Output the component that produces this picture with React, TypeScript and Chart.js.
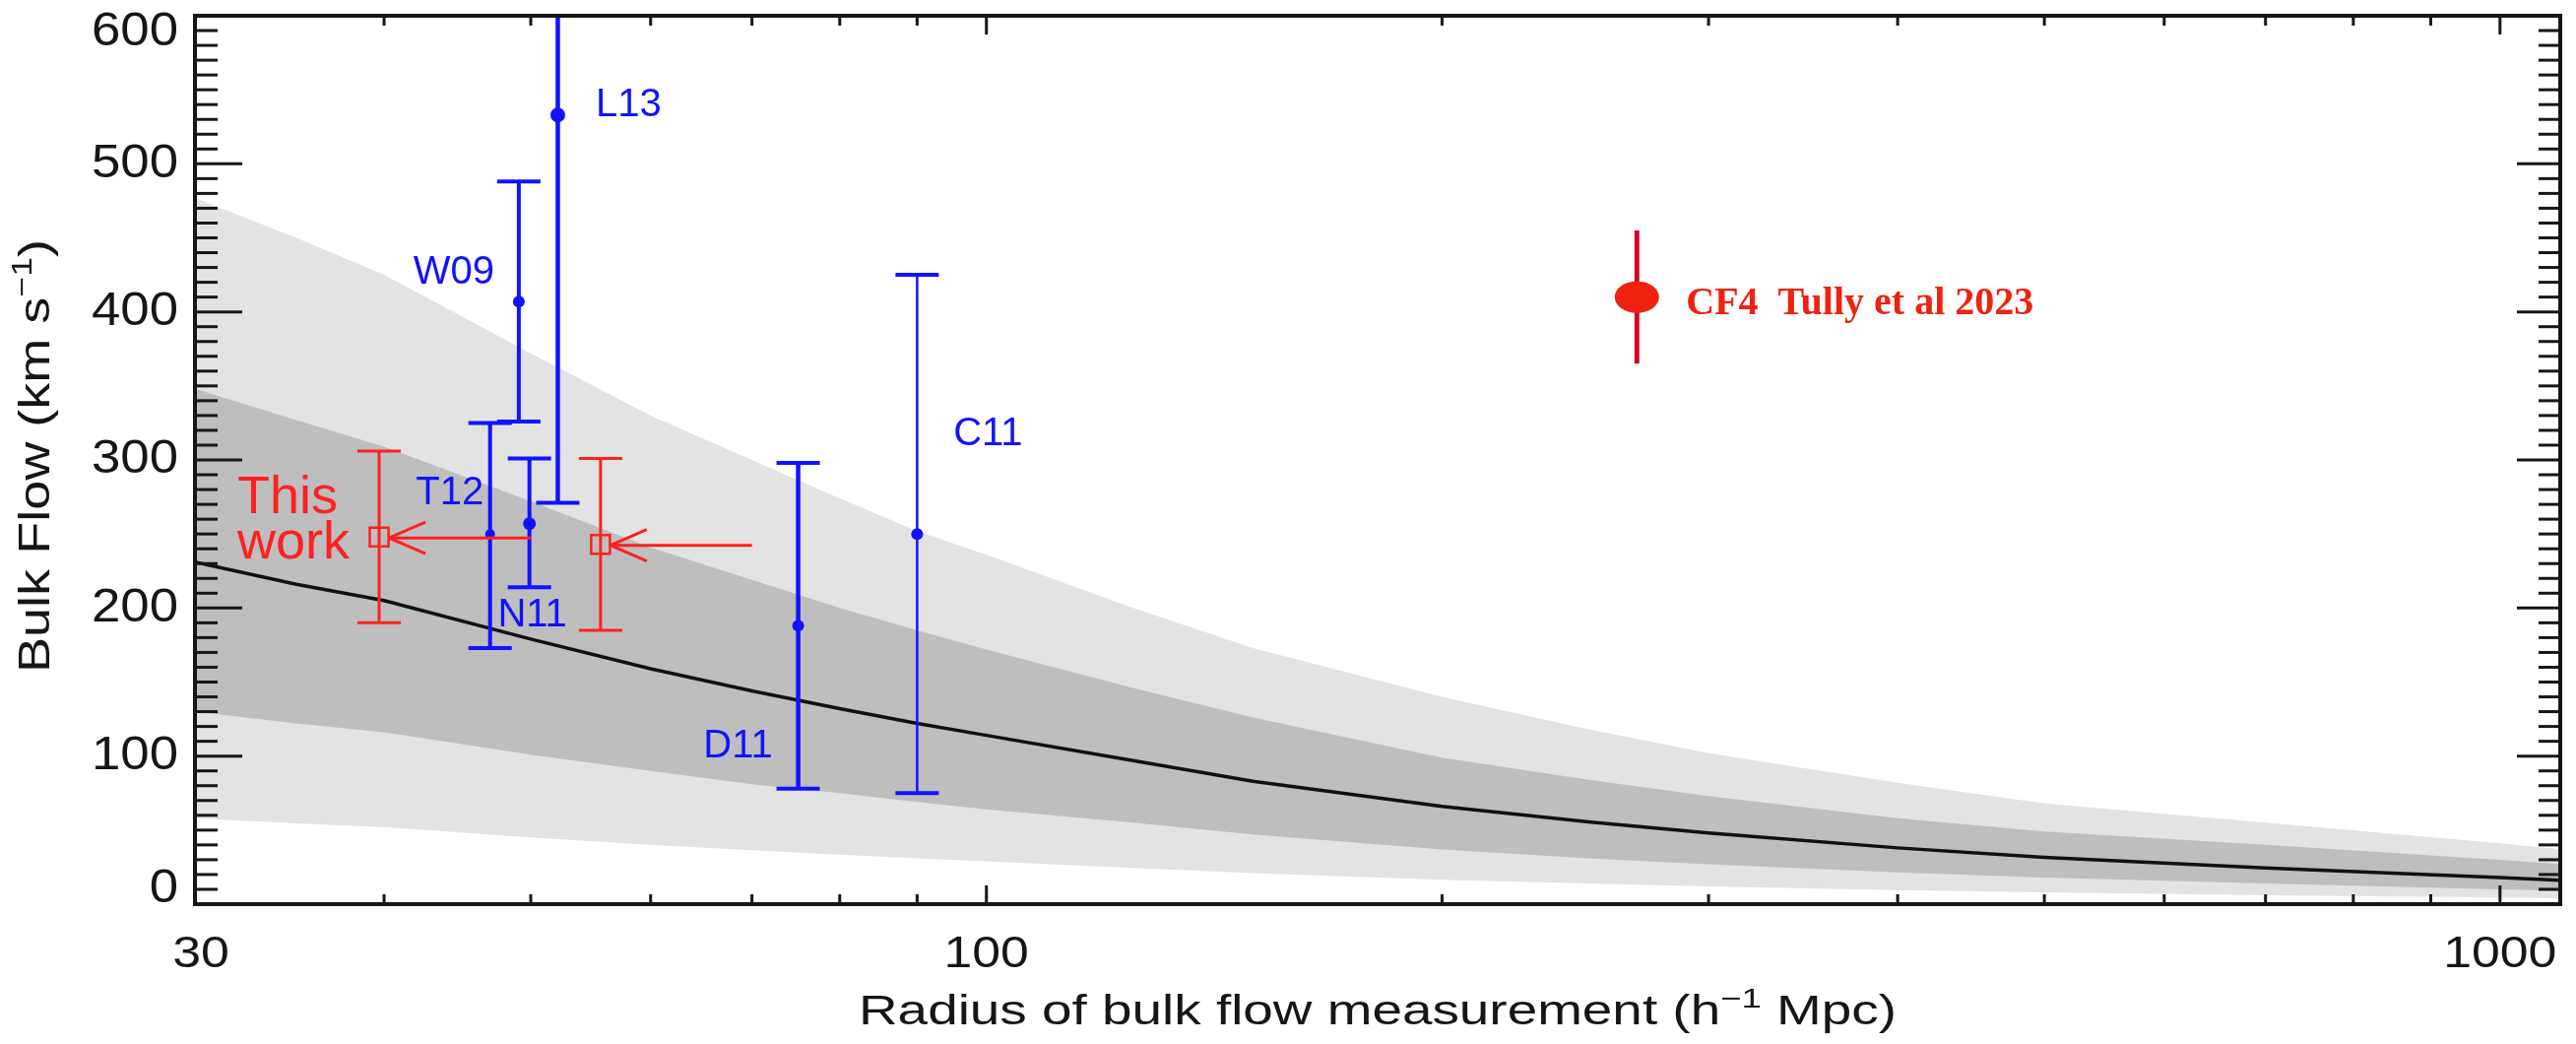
import { useEffect, useRef } from "react";
import { Chart, registerables } from "chart.js";

Chart.register(...registerables);

const W = 2616;
const H = 1060;

// Predicted bulk flow versus radius: median and the two confidence bands
const radius = [30, 35, 40, 50, 60, 70, 80, 90, 100, 125, 150, 200, 250, 300, 400, 500, 700, 1000, 1100];
const median = [231, 216, 205, 179, 159, 144, 132, 122, 114, 97, 83, 66, 55.5, 48, 38, 31.6, 24.5, 18, 16];
const innerHigh = [348, 327, 309, 272, 241, 219, 200, 185, 172, 146, 126, 99, 84, 73, 58, 49, 40, 30, 27];
const innerLow = [130, 122, 116, 101, 90, 81, 75, 69, 64, 55, 47, 37, 31, 27, 21.5, 18, 14, 10, 9];
const outerHigh = [477, 450, 425, 372, 330, 300, 274, 252, 236, 200, 173, 140, 118, 102, 82, 68, 55, 41, 37];
const outerLow = [58, 54.5, 52, 45, 40, 36.5, 33.5, 31, 29, 24.5, 21, 16.5, 14, 12, 9.5, 8, 6, 4.5, 4];

// Earlier bulk flow measurements
const surveyNames = ["W09", "L13", "T12", "N11", "D11", "C11"];
const surveyRadius = [49.1, 52.1, 47.0, 49.9, 75.1, 90.0];
const surveyFlow = [407, 533, 250, 257, 188, 250];
const surveyLow = [326, 271, 173, 214, 78, 75];
const surveyHigh = [488, 796, 325, 301, 298, 425];

// This work: two estimates, each with the radius it is shifted from
const thisWorkRadius = [39.7, 55.6];
const thisWorkFlow = [248, 243];
const thisWorkLow = [190, 185];
const thisWorkHigh = [306, 301];
const thisWorkShiftedFrom = [50, 70];

// CF4 (Tully et al 2023)
const cf4Radius = [269];
const cf4Flow = [410];
const cf4Low = [365];
const cf4High = [455];

// Axis ticks
const yTickLabels = [0, 100, 200, 300, 400, 500, 600];
const xTickLabels = [30, 100, 1000];
const xMinorTicks = [40, 50, 60, 70, 80, 90, 200, 300, 400, 500, 600, 700, 800, 900];
const xMajorTicks = [100, 1000];

// Styling
const BLUE = "#1212ff";
const RED = "#ff2020";
const LIGHT = "#e3e3e3";
const DARK = "#bebebe";
const INK = "#161616";
const SANS = '"Liberation Sans", Arial, sans-serif';
const SERIF = '"Liberation Serif", "Times New Roman", serif';
const CAP = 22;
const surveyLineWidth = [4, 4.5, 4, 4, 4.5, 2.5];
const surveyDotRadius = [6, 7.5, 5, 6.5, 6, 6];
// label placement relative to each survey point, in pixels
const surveyLabelShift: [number, number][] = [
  [-66, -32],
  [72, -13],
  [-41, -44],
  [3, 90],
  [-61, 120],
  [72, -104],
];

type Part = { text: string; size: number; rise: number };

function drawRich(
  ctx: CanvasRenderingContext2D,
  parts: Part[],
  family: string,
  cx: number,
  baseline: number,
  width: number,
  angle: number,
  color: string
) {
  ctx.save();
  ctx.translate(cx, baseline);
  ctx.rotate(angle);
  let total = 0;
  const widths = parts.map((p) => {
    ctx.font = `${p.size}px ${family}`;
    const w = ctx.measureText(p.text).width;
    total += w;
    return w;
  });
  ctx.scale(width / total, 1);
  ctx.fillStyle = color;
  ctx.textAlign = "left";
  ctx.textBaseline = "alphabetic";
  let x = -total / 2;
  parts.forEach((p, i) => {
    ctx.font = `${p.size}px ${family}`;
    ctx.fillText(p.text, x, -p.rise);
    x += widths[i];
  });
  ctx.restore();
}

const overlay = {
  id: "overlay",
  afterDatasetsDraw(chart: any) {
    const { ctx, chartArea: a } = chart;
    const X = (v: number) => chart.scales.x.getPixelForValue(v);
    const Y = (v: number) => chart.scales.y.getPixelForValue(v);
    const seg = (x1: number, y1: number, x2: number, y2: number) => {
      ctx.beginPath();
      ctx.moveTo(x1, y1);
      ctx.lineTo(x2, y2);
      ctx.stroke();
    };

    ctx.save();
    ctx.beginPath();
    ctx.rect(a.left, a.top, a.right - a.left, a.bottom - a.top);
    ctx.clip();
    ctx.lineCap = "butt";

    // survey error bars
    ctx.strokeStyle = BLUE;
    surveyRadius.forEach((r, i) => {
      const x = X(r);
      const lo = Y(surveyLow[i]);
      const hi = Y(surveyHigh[i]);
      ctx.lineWidth = surveyLineWidth[i];
      seg(x, lo, x, hi);
      ctx.lineWidth = 4;
      seg(x - CAP, lo, x + CAP, lo);
      seg(x - CAP, hi, x + CAP, hi);
    });

    // this work: error bars and shift arrows
    ctx.strokeStyle = RED;
    ctx.lineWidth = 3;
    thisWorkRadius.forEach((r, i) => {
      const x = X(r);
      const y = Y(thisWorkFlow[i]);
      const lo = Y(thisWorkLow[i]);
      const hi = Y(thisWorkHigh[i]);
      seg(x, lo, x, hi);
      seg(x - CAP, lo, x + CAP, lo);
      seg(x - CAP, hi, x + CAP, hi);
      const tip = x + 10;
      const tail = X(thisWorkShiftedFrom[i]);
      seg(tail, y + 1, tip, y + 1);
      seg(tip, y + 1, tip + 37, y - 15);
      seg(tip, y + 1, tip + 37, y + 17);
    });

    // CF4 point
    cf4Radius.forEach((r, i) => {
      const x = X(r);
      ctx.strokeStyle = "#d2062a";
      ctx.lineWidth = 5;
      seg(x, Y(cf4Low[i]), x, Y(cf4High[i]));
      ctx.fillStyle = "#ee2211";
      ctx.beginPath();
      ctx.ellipse(x, Y(cf4Flow[i]), 22.5, 16, 0, 0, Math.PI * 2);
      ctx.fill();
    });
    ctx.restore();

    // annotations
    ctx.save();
    ctx.textBaseline = "alphabetic";
    ctx.textAlign = "center";
    ctx.fillStyle = BLUE;
    ctx.font = `40px ${SANS}`;
    surveyNames.forEach((name, i) => {
      const [dx, dy] = surveyLabelShift[i];
      ctx.fillText(name, X(surveyRadius[i]) + dx, Y(surveyFlow[i]) + dy + 14);
    });

    ctx.fillStyle = RED;
    ctx.textAlign = "left";
    ctx.font = `54px ${SANS}`;
    const tx = X(thisWorkRadius[0]) - 144;
    const ty = Y(thisWorkFlow[0]);
    ctx.fillText("This", tx, ty - 24);
    ctx.fillText("work", tx, ty + 22);

    ctx.fillStyle = "#ee2211";
    ctx.font = `bold 40px ${SERIF}`;
    ctx.fillText("CF4  Tully et al 2023", X(cf4Radius[0]) + 50, Y(cf4Flow[0]) + 17);
    ctx.restore();
  },
  afterDraw(chart: any) {
    const { ctx, chartArea: a } = chart;
    const X = (v: number) => chart.scales.x.getPixelForValue(v);
    const Y = (v: number) => chart.scales.y.getPixelForValue(v);
    const seg = (x1: number, y1: number, x2: number, y2: number) => {
      ctx.beginPath();
      ctx.moveTo(x1, y1);
      ctx.lineTo(x2, y2);
      ctx.stroke();
    };
    ctx.save();
    ctx.strokeStyle = INK;
    ctx.lineCap = "butt";

    // y ticks on both sides
    ctx.lineWidth = 3;
    for (let v = 0; v <= 600; v += 10) {
      const y = Y(v);
      const major = v % 100 === 0;
      seg(a.left, y, a.left + (major ? 48 : 23), y);
      seg(a.right, y, a.right - (major ? 44 : 22), y);
    }
    // x ticks on bottom and top
    xMinorTicks.forEach((v) => {
      const x = X(v);
      seg(x, a.bottom, x, a.bottom - 10);
      seg(x, a.top, x, a.top + 10);
    });
    xMajorTicks.forEach((v) => {
      const x = X(v);
      seg(x, a.bottom, x, a.bottom - 19);
      seg(x, a.top, x, a.top + 19);
    });

    // frame
    ctx.lineWidth = 4;
    ctx.strokeRect(a.left, a.top, a.right - a.left, a.bottom - a.top);

    // tick labels
    ctx.fillStyle = INK;
    ctx.textBaseline = "middle";
    ctx.font = `48px ${SANS}`;
    yTickLabels.forEach((v) => {
      const y = Math.min(Math.max(Y(v), a.top + 17), a.bottom - 15);
      ctx.save();
      ctx.translate(a.left - 17, y);
      ctx.scale(1.1, 1);
      ctx.textAlign = "right";
      ctx.fillText(String(v), 0, 0);
      ctx.restore();
    });
    ctx.font = `45px ${SANS}`;
    xTickLabels.forEach((v) => {
      const x = Math.max(X(v), a.left + 6);
      ctx.save();
      ctx.translate(x, a.bottom + 52);
      ctx.scale(1.15, 1);
      ctx.textAlign = "center";
      ctx.fillText(String(v), 0, 0);
      ctx.restore();
    });

    // axis titles
    drawRich(
      ctx,
      [
        { text: "Radius of bulk flow measurement (h", size: 42, rise: 0 },
        { text: "\u22121", size: 28, rise: 17 },
        { text: " Mpc)", size: 42, rise: 0 },
      ],
      SANS,
      (a.left + a.right) / 2,
      a.bottom + 122,
      1054,
      0,
      INK
    );
    drawRich(
      ctx,
      [
        { text: "Bulk Flow (km s", size: 44, rise: 0 },
        { text: "\u22121", size: 29, rise: 18 },
        { text: ")", size: 44, rise: 0 },
      ],
      SANS,
      50,
      463,
      440,
      -Math.PI / 2,
      INK
    );
    ctx.restore();
  },
};

export default function App() {
  const ref = useRef<HTMLCanvasElement>(null);

  useEffect(() => {
    const canvas = ref.current;
    if (!canvas) return;
    const toXY = (ys: number[]) => radius.map((r, i) => ({ x: r, y: ys[i] }));
    const hidden = "rgba(0,0,0,0)";
    const chart = new Chart(canvas, {
      type: "line",
      data: {
        datasets: [
          { label: "outer low", data: toXY(outerLow), borderColor: hidden, borderWidth: 0, pointRadius: 0, fill: false, order: 5 },
          { label: "outer high", data: toXY(outerHigh), borderColor: hidden, borderWidth: 0, pointRadius: 0, fill: "-1", backgroundColor: LIGHT, order: 5 },
          { label: "inner low", data: toXY(innerLow), borderColor: hidden, borderWidth: 0, pointRadius: 0, fill: false, order: 4 },
          { label: "inner high", data: toXY(innerHigh), borderColor: hidden, borderWidth: 0, pointRadius: 0, fill: "-1", backgroundColor: DARK, order: 4 },
          { label: "median", data: toXY(median), borderColor: "#111111", borderWidth: 3.5, pointRadius: 0, fill: false, order: 3 },
          {
            label: "surveys",
            data: surveyRadius.map((r, i) => ({ x: r, y: surveyFlow[i] })),
            showLine: false,
            pointRadius: surveyDotRadius,
            pointBackgroundColor: BLUE,
            pointBorderColor: BLUE,
            pointBorderWidth: 0,
            order: 2,
          },
          {
            label: "this work",
            data: thisWorkRadius.map((r, i) => ({ x: r, y: thisWorkFlow[i] })),
            showLine: false,
            pointStyle: "rect",
            pointRadius: 13.5,
            pointBorderColor: RED,
            pointBorderWidth: 2.5,
            pointBackgroundColor: hidden,
            order: 1,
          },
        ],
      },
      options: {
        responsive: false,
        animation: false,
        devicePixelRatio: 1,
        layout: { padding: { left: 198, top: 10, right: 1, bottom: 142 } },
        elements: { line: { tension: 0 } },
        scales: {
          x: { type: "logarithmic", min: 30, max: 1096, display: false },
          y: { type: "linear", min: 0, max: 600, display: false },
        },
        plugins: {
          legend: { display: false },
          tooltip: { enabled: false },
          filler: { propagate: false },
        },
      } as any,
      plugins: [overlay],
    });
    return () => chart.destroy();
  }, []);

  return (
    <div style={{ position: "absolute", left: 0, top: 0, width: W, height: H, background: "#ffffff" }}>
      <canvas ref={ref} width={W} height={H} style={{ display: "block" }} />
    </div>
  );
}
